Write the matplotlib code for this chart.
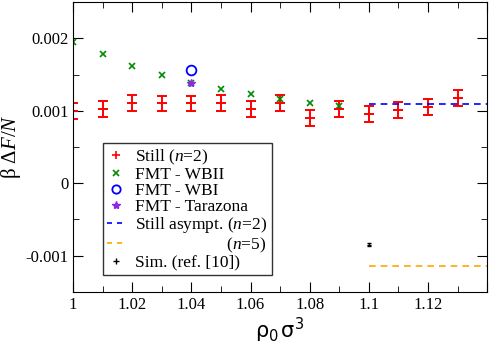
import numpy as np
import matplotlib
matplotlib.use("Agg")
import matplotlib.pyplot as plt
from matplotlib.lines import Line2D
from matplotlib.ticker import MultipleLocator, FuncFormatter

plt.rcParams['font.family'] = ['Liberation Serif', 'DejaVu Serif']
plt.rcParams['mathtext.fontset'] = 'custom'
plt.rcParams['mathtext.rm'] = 'Liberation Serif'
plt.rcParams['mathtext.it'] = 'Liberation Serif:italic'
plt.rcParams['mathtext.sf'] = 'DejaVu Sans'

# Still (n=2) with error bars
still_x = [1.00, 1.01, 1.02, 1.03, 1.04, 1.05, 1.06, 1.07, 1.08, 1.09, 1.10, 1.11, 1.12, 1.13]
still_y = [0.00099, 0.00103, 0.00111, 0.00110, 0.00110, 0.00111, 0.00102, 0.00111,
           0.00090, 0.00103, 0.00096, 0.00101, 0.00105, 0.00117]
still_err = [0.00011, 0.00011, 0.00011, 0.00011, 0.00011, 0.00011, 0.00011, 0.00011,
             0.00011, 0.00011, 0.00011, 0.00011, 0.00011, 0.00011]

# FMT - WBII
wb2_x = [1.00, 1.01, 1.02, 1.03, 1.04, 1.05, 1.06, 1.07, 1.08, 1.09]
wb2_y = [0.00195, 0.00178, 0.00162, 0.00150, 0.00138, 0.00130, 0.00123, 0.00116, 0.00111, 0.00107]

# FMT - WBI, FMT - Tarazona
wb1_x = [1.04]
wb1_y = [0.00156]
tar_x = [1.04]
tar_y = [0.00138]

# asymptotes
asym_x = [1.10, 1.14]
asym2_y = [0.00109, 0.00109]
asym5_y = [-0.00114, -0.00114]

# simulation
sim_x = [1.10]
sim_y = [-0.00085]
sim_err = [0.00002]

fig = plt.figure(figsize=(4.91, 3.45), dpi=100)
ax = fig.add_axes([0.149, 0.154, 0.843, 0.840])

ax.errorbar(still_x, still_y, yerr=still_err, fmt='_', color='red', ms=6.5, mew=1.4,
            elinewidth=1.4, capsize=3.3, capthick=1.4)
ax.plot(wb2_x, wb2_y, 'x', color='#008b00', ms=5, mew=1.2)
ax.plot(wb1_x, wb1_y, 'o', mfc='none', mec='blue', ms=7, mew=1.3)
ax.plot(tar_x, tar_y, '*', color='#8a2be2', ms=6)
ax.plot(asym_x, asym2_y, '--', color='blue', lw=1.2, dashes=(4, 3))
ax.plot(asym_x, asym5_y, '--', color='orange', lw=1.2, dashes=(4, 3))
ax.errorbar(sim_x, sim_y, yerr=sim_err, fmt='_', color='black', ms=3, mew=1,
            elinewidth=1, capsize=1.5, capthick=1)

ax.set_xlim(1.0, 1.14)
ax.set_ylim(-0.0015, 0.0025)
ax.xaxis.set_major_locator(MultipleLocator(0.02))
ax.xaxis.set_minor_locator(MultipleLocator(0.01))
ax.yaxis.set_major_locator(MultipleLocator(0.001))
ax.yaxis.set_minor_locator(MultipleLocator(0.0005))
ax.xaxis.set_major_formatter(FuncFormatter(lambda v, p: '' if v > 1.135 else '%g' % round(v, 6)))
ax.yaxis.set_major_formatter(FuncFormatter(lambda v, p: '%g' % round(v, 6)))
ax.tick_params(which='both', direction='in', top=True, right=True, labelsize=12)
ax.tick_params(which='major', length=7)
ax.tick_params(which='minor', length=4)

ax.set_xlabel(r'$\mathsf{\rho_0\,\sigma^3}$', fontsize=15, labelpad=2)
ax.set_ylabel(r'β Δ$F$/$N$', fontsize=15, labelpad=2)

handles = [
    Line2D([], [], ls='none', marker='+', color='red', ms=6, mew=1.2),
    Line2D([], [], ls='none', marker='x', color='#008b00', ms=4, mew=1.2),
    Line2D([], [], ls='none', marker='o', mfc='none', mec='blue', ms=6, mew=1.3),
    Line2D([], [], ls='none', marker='*', color='#8a2be2', ms=6),
    Line2D([], [], ls='--', color='blue', lw=1.2, dashes=(3, 3)),
    Line2D([], [], ls='--', color='orange', lw=1.2, dashes=(3, 3)),
    Line2D([], [], ls='none', marker='+', color='black', ms=4, mew=1),
]
labels = [
    r'Still ($n$=2)',
    'FMT - WBII',
    'FMT - WBI',
    'FMT - Tarazona',
    r'Still asympt. ($n$=2)',
    r'($n$=5)',
    'Sim. (ref. [10])',
]
leg = ax.legend(handles, labels, loc='lower left', bbox_to_anchor=(0.072, 0.058),
                fontsize=12.5, frameon=True, fancybox=False, edgecolor='black',
                handlelength=1.0, handletextpad=0.6, labelspacing=0.0,
                borderpad=0.25, borderaxespad=0)
leg.get_frame().set_linewidth(1.0)

# pad the (n=5) label with spaces so that it lines up on the right
fig.canvas.draw()
r = fig.canvas.get_renderer()
txts = leg.get_texts()
w_full = txts[4].get_window_extent(r).width
w_short = txts[5].get_window_extent(r).width
txts[5].set_text(' ' + r'($n$=5)')
w_sp = txts[5].get_window_extent(r).width - w_short
txts[5].set_text(' ' * int(round((w_full - w_short) / w_sp)) + r'($n$=5)')

fig.savefig('out.png', dpi=100)
